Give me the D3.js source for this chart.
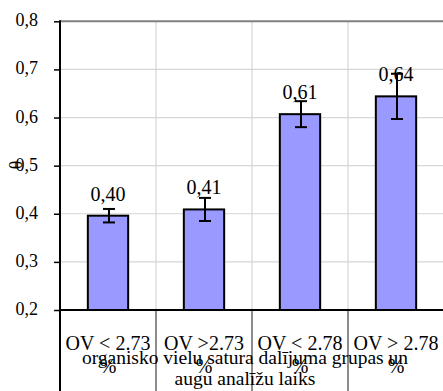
<!DOCTYPE html>
<html>
<head>
<meta charset="utf-8">
<script src="https://cdn.jsdelivr.net/npm/d3@7"></script>
<style>
  html, body { margin: 0; padding: 0; background: #fff; }
  svg { display: block; }
</style>
</head>
<body>
<svg id="chart" width="443" height="391"></svg>
<script>
// Group labels (two lines each) and means with error half-widths
const categories = ["OV < 2.73", "OV >2.73", "OV < 2.78", "OV > 2.78"];
const categoryUnits = ["%", "%", "%", "%"];
const means = [0.396, 0.409, 0.607, 0.644];
const errors = [0.014, 0.024, 0.027, 0.047];
const yTicks = [0.2, 0.3, 0.4, 0.5, 0.6, 0.7, 0.8];
const xTitleLines = ["organisko vielu satura dalījuma grupas un", "augu analīžu laiks"];
const yTitle = "θ";

const serif = "'Liberation Serif', 'Times New Roman', serif";
const svg = d3.select("#chart");
const plotLeft = 60, plotRight = 444, plotTop = 21.3, plotBottom = 310, canvasBottom = 391;

const x = d3.scaleBand().domain(categories).range([plotLeft, plotRight]).padding(0);
const y = d3.scaleLinear().domain([0.2, 0.8]).range([plotBottom, plotTop]);
const fmt = v => d3.format(".2f")(v).replace(".", ",");
const barW = x.bandwidth() * 0.42;

// horizontal gridlines
svg.append("g").selectAll("line")
  .data(yTicks.filter(t => t > 0.2 && t < 0.8))
  .join("line")
  .attr("x1", plotLeft).attr("x2", plotRight)
  .attr("y1", d => y(d)).attr("y2", d => y(d))
  .attr("stroke", "#d6d6d6").attr("stroke-width", 1.2);

// vertical gridlines between groups
svg.append("g").selectAll("line")
  .data(categories.slice(1))
  .join("line")
  .attr("x1", d => x(d)).attr("x2", d => x(d))
  .attr("y1", plotTop).attr("y2", plotBottom)
  .attr("stroke", "#d6d6d6").attr("stroke-width", 1.2);

// group dividers below the axis
svg.append("g").selectAll("line")
  .data(categories.slice(1))
  .join("line")
  .attr("x1", d => x(d)).attr("x2", d => x(d))
  .attr("y1", plotBottom).attr("y2", canvasBottom)
  .attr("stroke", "#666").attr("stroke-width", 1.5);

// top frame line
svg.append("line")
  .attr("x1", plotLeft).attr("x2", plotRight)
  .attr("y1", y(0.8)).attr("y2", y(0.8))
  .attr("stroke", "#808080").attr("stroke-width", 2);

// bars
svg.append("g").selectAll("rect")
  .data(means)
  .join("rect")
  .attr("x", (d, i) => x(categories[i]) + (x.bandwidth() - barW) / 2)
  .attr("y", d => y(d))
  .attr("width", barW)
  .attr("height", d => plotBottom - y(d))
  .attr("fill", "#9999ff")
  .attr("stroke", "#000").attr("stroke-width", 2);

// error bars
const eb = svg.append("g").attr("stroke", "#000").attr("stroke-width", 2);
means.forEach((m, i) => {
  const cx = x(categories[i]) + x.bandwidth() / 2 + 1;
  const e = errors[i];
  eb.append("line").attr("x1", cx).attr("x2", cx).attr("y1", y(m + e)).attr("y2", y(m - e));
  eb.append("line").attr("x1", cx - 6).attr("x2", cx + 6).attr("y1", y(m + e)).attr("y2", y(m + e));
  eb.append("line").attr("x1", cx - 6).attr("x2", cx + 6).attr("y1", y(m - e)).attr("y2", y(m - e));
});

// value labels
svg.append("g").selectAll("text")
  .data(means)
  .join("text")
  .attr("x", (d, i) => x(categories[i]) + x.bandwidth() / 2)
  .attr("y", d => y(d) - 15)
  .attr("text-anchor", "middle")
  .style("font-family", serif)
  .attr("font-size", 20)
  .text(d => fmt(d));

// y axis
const yAxis = svg.append("g")
  .attr("transform", `translate(${plotLeft},0)`)
  .call(d3.axisLeft(y).tickValues(yTicks).tickSize(6).tickPadding(16)
    .tickFormat(d => d3.format(".1f")(d).replace(".", ",")));
yAxis.select(".domain").remove();
yAxis.selectAll(".tick line").attr("stroke", "#000").attr("stroke-width", 1.5);
yAxis.selectAll(".tick text")
  .style("font-family", serif)
  .attr("font-size", 18).attr("fill", "#000").attr("dy", "0.25em");
svg.append("line")
  .attr("x1", plotLeft).attr("x2", plotLeft).attr("y1", plotTop - 1).attr("y2", canvasBottom)
  .attr("stroke", "#000").attr("stroke-width", 2);

// x axis baseline
svg.append("line")
  .attr("x1", plotLeft).attr("x2", plotRight).attr("y1", plotBottom).attr("y2", plotBottom)
  .attr("stroke", "#000").attr("stroke-width", 2);

// category labels
const cat = svg.append("g").attr("text-anchor", "middle").attr("font-size", 20);
categories.forEach((c, i) => {
  const cx = x(c) + x.bandwidth() / 2;
  cat.append("text").attr("x", cx).attr("y", 350).style("font-family", serif).text(c);
  cat.append("text").attr("x", cx).attr("y", 373).style("font-family", serif).text(categoryUnits[i]);
});

// x axis title
const xt = svg.append("g").attr("text-anchor", "middle").attr("font-size", 19.5);
xTitleLines.forEach((t, i) => {
  xt.append("text").attr("x", 245).attr("y", 364 + i * 21).style("font-family", serif).text(t);
});

// y axis title
svg.append("text")
  .attr("transform", "translate(22,165) rotate(-90)")
  .attr("text-anchor", "middle")
  .style("font-family", serif)
  .attr("font-size", 18)
  .text(yTitle);
</script>
</body>
</html>
